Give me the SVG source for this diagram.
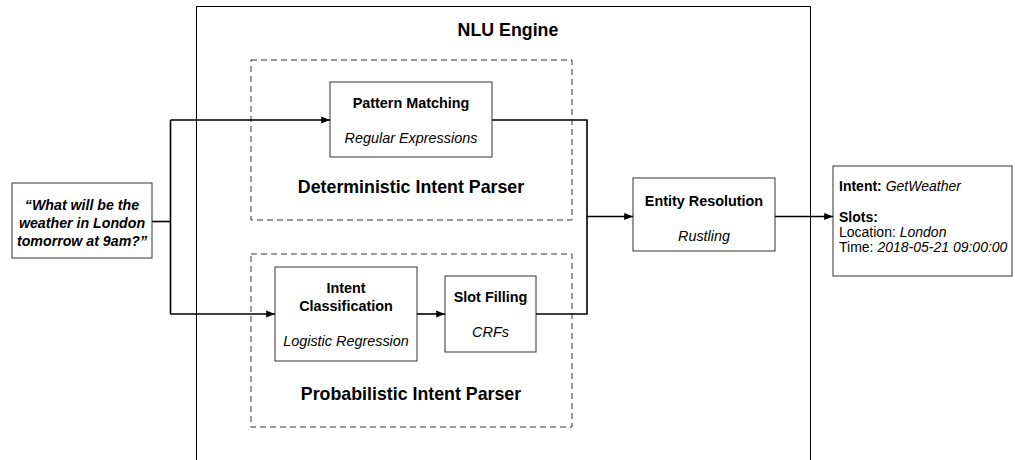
<svg xmlns="http://www.w3.org/2000/svg" width="1015" height="460" viewBox="0 0 1015 460">
<style>
text{font-family:"Liberation Sans",Arial,sans-serif;fill:#000}
.box{fill:#fff;stroke:#333;stroke-width:1}
.dash{fill:none;stroke:#333;stroke-width:1;stroke-dasharray:6,4}
.t{font-size:14.4px;font-weight:bold;text-anchor:middle}
.s{font-size:14.4px;font-style:italic;text-anchor:middle}
.big{font-size:17.8px;font-weight:bold;text-anchor:middle}
.in{font-size:14.2px;font-weight:bold;font-style:italic;text-anchor:middle}
.o{font-size:14px}
.c{fill:none;stroke:#000;stroke-width:1.6}
</style>
<defs>
<marker id="ah" viewBox="0 0 10 10" refX="10" refY="5" markerWidth="5.5" markerHeight="5.5" orient="auto" markerUnits="strokeWidth">
<path d="M0,1 L10,5 L0,9 z" fill="#000"/>
</marker>
</defs>
<g id="nlu-engine">
<rect x="196.5" y="6.5" width="614" height="480" fill="none" stroke="#000" stroke-width="1"/>
<text class="big" x="508" y="36">NLU Engine</text>
</g>
<g id="deterministic-parser">
<rect class="dash" x="251" y="60" width="321" height="160"/>
<text class="big" x="411" y="193">Deterministic Intent Parser</text>
</g>
<g id="probabilistic-parser">
<rect class="dash" x="251" y="254" width="321" height="173"/>
<text class="big" x="411" y="400">Probabilistic Intent Parser</text>
</g>
<g id="input">
<rect class="box" x="12" y="183" width="140" height="75"/>
<text class="in" x="82" y="210">“What will be the</text>
<text class="in" x="82" y="228">weather in London</text>
<text class="in" x="82" y="246">tomorrow at 9am?”</text>
</g>
<g id="pattern-matching">
<rect class="box" x="330" y="82" width="162" height="75"/>
<text class="t" x="411" y="108">Pattern Matching</text>
<text class="s" x="411" y="143">Regular Expressions</text>
</g>
<g id="intent-classification">
<rect class="box" x="275" y="267" width="142" height="94"/>
<text class="t" x="346" y="293">Intent</text>
<text class="t" x="346" y="311">Classification</text>
<text class="s" x="346" y="346">Logistic Regression</text>
</g>
<g id="slot-filling">
<rect class="box" x="445" y="276" width="91" height="76"/>
<text class="t" x="490.5" y="302">Slot Filling</text>
<text class="s" x="490.5" y="337">CRFs</text>
</g>
<g id="entity-resolution">
<rect class="box" x="633" y="178" width="142" height="73"/>
<text class="t" x="704" y="206">Entity Resolution</text>
<text class="s" x="704" y="241">Rustling</text>
</g>
<g id="output">
<rect class="box" x="833" y="166" width="179" height="110"/>
<text class="o" x="839" y="191"><tspan font-weight="bold">Intent:</tspan> <tspan font-style="italic">GetWeather</tspan></text>
<text class="o" x="839" y="221.5" font-weight="bold">Slots:</text>
<text class="o" x="839" y="237">Location: <tspan font-style="italic">London</tspan></text>
<text class="o" x="839" y="252">Time: <tspan font-style="italic">2018-05-21 09:00:00</tspan></text>
</g>
<g id="connectors">
<path class="c" d="M152 221.5 H170.5"/>
<path class="c" d="M170.5 120 V314"/>
<path class="c" d="M170.5 120 H330" marker-end="url(#ah)"/>
<path class="c" d="M170.5 314 H275" marker-end="url(#ah)"/>
<path class="c" d="M417 314 H445" marker-end="url(#ah)"/>
<path class="c" d="M492 120 H587 V216.5 H633" marker-end="url(#ah)"/>
<path class="c" d="M536 314 H587 V216.5"/>
<path class="c" d="M775 216.5 H833" marker-end="url(#ah)"/>
</g>
</svg>
